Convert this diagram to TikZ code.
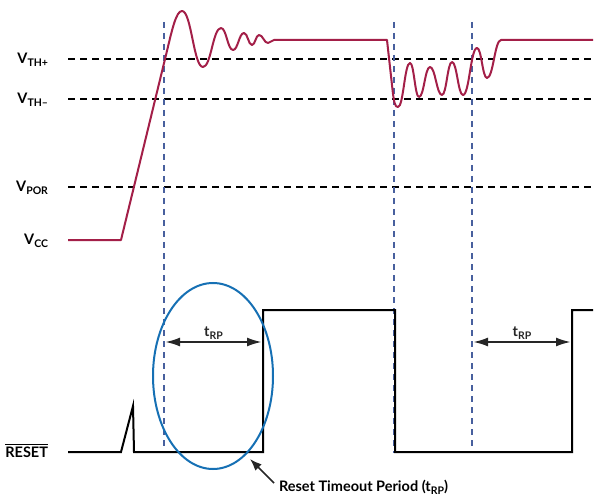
\documentclass[tikz,border=0pt]{standalone}
\usepackage{fontspec}
\setmainfont{Lato}
\usetikzlibrary{arrows.meta,shapes.geometric}
\definecolor{sigred}{RGB}{163,31,72}
\definecolor{markblue}{RGB}{72,96,158}
\definecolor{ringblue}{RGB}{22,112,180}
\newcommand\lo[1]{\raisebox{-.4ex}{\fontsize{10.5}{11}\selectfont #1}}
\newcommand\barred[1]{\leavevmode\vbox{\hrule height 1.4pt\kern1.6pt\hbox{#1}}}
\begin{document}
\begin{tikzpicture}[x=1pt,y=-1pt,line width=2pt,
  font=\fontsize{14.5}{16}\selectfont\bfseries,
  level/.style={dash pattern=on 7pt off 5pt,line width=2.2pt},
  marker/.style={markblue,dash pattern=on 6pt off 5pt,line width=1.6pt},
  sig/.style={sigred,line join=round},
  dig/.style={black,line width=2pt},
  period/.style={{Latex[length=15pt,width=9pt]}-{Latex[length=15pt,width=9pt]},line width=2.2pt,black!85},
  lbl/.style={anchor=base east,inner sep=0pt}]
\useasboundingbox (0,0) rectangle (613,497);
% levels
\foreach \y/\name/\txt in {59/vthp/TH+,99/vthm/TH–,187/vpor/POR}
{
  \node[lbl] (\name) at (49,\y+4.5) {V\lo{\txt}};
  \draw[level] (68,\y) -- (593,\y);
}
\node[lbl] (vcc) at (49,244.5) {V\lo{CC}};
\node[lbl] (rst) at (49,457.5) {\barred{RESET}};
% markers
\foreach \x in {164,394,472}
  \draw[marker] (\x,22) -- (\x,453);
% supply
\draw[sig] (68,240) -- (121,240) -- (166,55) .. controls (172,30) and (176,11) .. (182,11)
  \foreach \x/\y [remember=\x as \px (initially 182),remember=\y as \py (initially 11)]
    in {203/67,221/28,233/50,244/33,252/45,259/35,268/43,274/40}
    { .. controls ({\px+.45*(\x-\px)},\py) and ({\x-.45*(\x-\px)},\y) .. (\x,\y)}
  -- (387,40) -- (392,85) .. controls (394,104) and (395,107) .. (398,107)
  \foreach \x/\y [remember=\x as \px (initially 398),remember=\y as \py (initially 107)]
    in {410/63,419/97,430/67,442/95,452/62,463/95,477/48,487/78,501/40}
    { .. controls ({\px+.45*(\x-\px)},\py) and ({\x-.45*(\x-\px)},\y) .. (\x,\y)}
  -- (593,40);
% reset output
\draw[dig] (68,452) -- (121,452) -- (133,406) -- (134,452) -- (263,452) -- (263,310)
  -- (395,310) -- (395,452) -- (572,452) -- (572,310) -- (593,310);
\coordinate (a1) at (165,342);
\coordinate (b1) at (262,342);
\coordinate (a2) at (473,342);
\coordinate (b2) at (571,342);
\draw[period] (a1) -- node[above=1pt,inner sep=0pt] (trp1) {t\lo{RP}} (b1);
\draw[period] (a2) -- node[above=1pt,inner sep=0pt] (trp2) {t\lo{RP}} (b2);
% timeout callout
\node[ellipse,draw=ringblue,line width=2pt,minimum width=120pt,minimum height=186pt,inner sep=0pt] (ring) at (213,376) {};
\node[anchor=west,inner sep=0pt] (note) at (278,487) {Reset Timeout Period (t\lo{RP})};
\coordinate (tip) at (250,459);
\draw[-{Latex[length=12pt,width=9pt]},line width=1.6pt,black!85] ([shift={(-4pt,4pt)}]note.west) -- (tip);
\end{tikzpicture}
\end{document}
